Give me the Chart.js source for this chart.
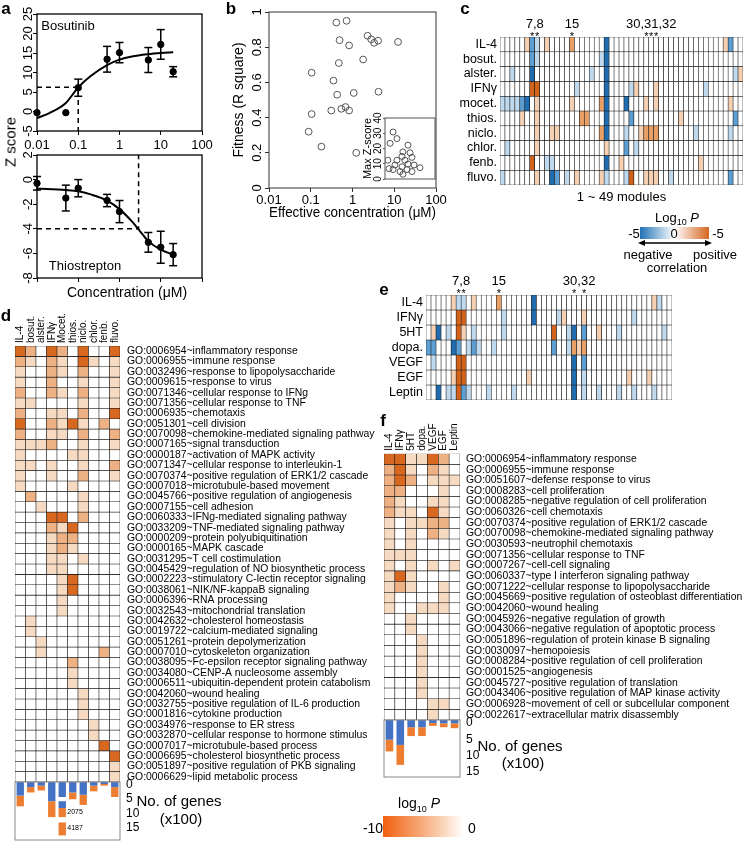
<!DOCTYPE html>
<html>
<head>
<meta charset="utf-8">
<script src="https://cdn.jsdelivr.net/npm/chart.js@4.4.1/dist/chart.umd.min.js"></script>
<style>
  body { margin: 0; background: #fff; }
  #fig { position: relative; width: 749px; height: 842px; overflow: hidden; font-family: "Liberation Sans", Arial, sans-serif; color: #000; }
  canvas { position: absolute; }
  .t { position: absolute; white-space: nowrap; transform: translate(-50%, -50%); line-height: 1; }
</style>
</head>
<body>
<div id="fig"></div>
<script>
// ---- panel a: dose response ----
const concTicks = [0.01, 0.1, 1, 10, 100];
const bosX = [0.01, 0.05, 0.1, 0.5, 1, 5, 10, 20];
const bosY = [-0.3, -0.3, 6.1, 13.4, 15.1, 13.2, 17.2, 10.2];
const bosErr = [0, 0, 2.2, 3.3, 2.6, 3.2, 3.8, 1.3];
const bosFitX = [0.01, 0.02, 0.05, 0.1, 0.2, 0.5, 1, 2, 5, 10, 20];
const bosFitY = [-1.7, -0.4, 2.2, 6.2, 9.1, 11.9, 13.3, 14.1, 14.7, 15.0, 15.2];
const bosEC = [[0.01, 6.2], [0.1, 6.2], [0.1, -5]];

const thX = [0.01, 0.05, 0.1, 0.5, 1, 5, 10, 20];
const thY = [-0.3, -1.5, -0.7, -1.7, -2.6, -5.1, -5.5, -6.1];
const thErr = [0.55, 1.05, 0.7, 0.5, 0.9, 0.8, 1.3, 0.9];
const thFitX = [0.01, 0.05, 0.1, 0.2, 0.5, 1, 2, 3, 5, 10, 20];
const thFitY = [-0.72, -0.85, -0.95, -1.2, -1.7, -2.4, -3.4, -4.1, -5.0, -5.7, -6.1];
const thEC = [[0.01, -4], [2.9, -4], [2.9, 2]];

// ---- panel b: fitness vs effective concentration ----
const bX = [0.41, 0.72, 0.49, 0.83, 2.3, 2.8, 3.3, 4.1, 1.8, 0.47, 0.105, 0.35, 0.43, 1.07, 4.2, 0.31, 0.54, 0.68, 0.83, 0.105, 0.089, 0.18, 1.23, 12.3];
const bY = [0.94, 0.95, 0.84, 0.81, 0.865, 0.845, 0.825, 0.837, 0.73, 0.71, 0.655, 0.61, 0.53, 0.54, 0.547, 0.44, 0.45, 0.46, 0.44, 0.42, 0.32, 0.235, 0.20, 0.83];
const insetX = [1.6, 1.3, 1.45, 2.1, 3.0, 8.3, 5.2, 4.8, 10, 12, 6.3, 3.0, 2.5, 4.8, 8.3, 14.5, 25, 4.0, 7.6, 12, 2.1, 5.2];
const insetY = [23.4, 12.3, 6.8, 30.8, 26.5, 22.2, 17.8, 14.8, 17.2, 14.2, 12.3, 12.3, 9.2, 8.0, 9.8, 9.2, 7.4, 4.9, 6.2, 4.9, 6.2, 3.1];

// ---- panels c, e: module heatmaps, sparse [module index, level] ----
const modules = Array.from({ length: 49 }, (_, i) => i + 1);
const cRows = ['IL-4', 'bosut.', 'alster.', 'IFNγ', 'mocet.', 'thios.', 'niclo.', 'chlor.', 'fenb.', 'fluvo.'];
const cCells = [
  [[5, 1], [6, -2], [7, -1], [9, 1], [14, 2], [21, -3], [45, 1], [46, -2]],
  [[6, -2], [7, -1], [20, -1], [21, -3]],
  [[2, -1], [6, -3], [18, -1], [21, -3], [47, -1], [48, 1]],
  [[6, 3], [7, 3], [15, -1], [21, -3], [26, -1], [27, 1], [31, 1], [41, -1]],
  [[0, -1], [1, -1], [2, -1], [3, -1], [4, -2], [5, -3], [7, 1], [14, 1], [20, 2], [21, -3], [25, -3], [29, 1], [31, 1], [46, 1]],
  [[4, 1], [7, 1], [16, 2], [17, 2], [21, -3], [26, -2], [36, 1], [47, -2]],
  [[7, 1], [10, 1], [11, 1], [20, 2], [21, -3], [25, -1], [28, 1], [29, 2], [30, 2], [31, 2], [39, -1], [46, -1]],
  [[1, -1], [7, 1], [21, 1], [25, -2], [27, -1]],
  [[6, 3], [9, -1], [10, -1], [21, -3], [24, 1], [40, 1]],
  [[0, -1], [7, 1], [10, -3], [11, -2], [13, -1], [15, 1], [20, 1], [21, -1], [25, -1], [26, 3], [29, 1], [30, 1], [31, 1], [34, -1], [46, -2]]
];
const cStarred = [[7, 8], [15], [30, 31, 32]];

const eRows = ['IL-4', 'IFNγ', '5HT', 'dopa.', 'VEGF', 'EGF', 'Leptin'];
const eCells = [
  [[5, 1], [6, -1], [7, -1], [9, 1], [14, 2], [21, -3], [45, 1], [46, -1]],
  [[6, 3], [7, 3], [15, -1], [21, -3], [26, -1], [27, 1], [31, 1], [41, -1]],
  [[1, 1], [2, -3], [4, -1], [6, 3], [7, 1], [9, -1], [15, -1], [25, 3], [28, -1], [29, -3], [31, -2], [34, 1], [38, -1], [47, -1]],
  [[0, -2], [1, -2], [5, -3], [6, -2], [8, -1], [9, -2], [10, -1], [13, -1], [25, -2], [28, -1], [29, 2], [30, 1], [31, 2]],
  [[1, -1], [6, 3], [7, 3], [29, -3], [31, -2]],
  [[5, 1], [6, 3], [7, 3], [20, 1], [29, -3], [31, -1], [40, 1], [44, 1]],
  [[2, -3], [4, -1], [5, -1], [6, 3], [7, -2], [8, -1], [12, -1], [17, -1], [29, -3], [31, -1], [34, -1], [38, -1], [41, -1], [45, -1]]
];
const eStarred = [[7, 8], [15], [30, 32]];

// ---- panel d: GO enrichment for drugs ----
const dCols = ['IL-4', 'bosut.', 'alster.', 'IFNγ', 'Mocet.', 'thios.', 'niclo.', 'chlor.', 'fenb.', 'fluvo.'];
const dTerms = [
  'GO:0006954~inflammatory response', 'GO:0006955~immune response', 'GO:0032496~response to lipopolysaccharide',
  'GO:0009615~response to virus', 'GO:0071346~cellular response to IFNg', 'GO:0071356~cellular response to TNF',
  'GO:0006935~chemotaxis', 'GO:0051301~cell division', 'GO:0070098~chemokine-mediated signaling pathway',
  'GO:0007165~signal transduction', 'GO:0000187~activation of MAPK activity', 'GO:0071347~cellular response to interleukin-1',
  'GO:0070374~positive regulation of ERK1/2 cascade', 'GO:0007018~microtubule-based movement', 'GO:0045766~positive regulation of angiogenesis',
  'GO:0007155~cell adhesion', 'GO:0060333~IFNg-mediated signaling pathway', 'GO:0033209~TNF-mediated signaling pathway',
  'GO:0000209~protein polyubiquitination', 'GO:0000165~MAPK cascade', 'GO:0031295~T cell costimulation',
  'GO:0045429~regulation of NO biosynthetic process', 'GO:0002223~stimulatory C-lectin receptor signaling', 'GO:0038061~NIK/NF-kappaB signaling',
  'GO:0006396~RNA processing', 'GO:0032543~mitochondrial translation', 'GO:0042632~cholesterol homeostasis',
  'GO:0019722~calcium-mediated signaling', 'GO:0051261~protein depolymerization', 'GO:0007010~cytoskeleton organization',
  'GO:0038095~Fc-epsilon receptor signaling pathway', 'GO:0034080~CENP-A nucleosome assembly', 'GO:0006511~ubiquitin-dependent protein catabolism',
  'GO:0042060~wound healing', 'GO:0032755~positive regulation of IL-6 production', 'GO:0001816~cytokine production',
  'GO:0034976~response to ER stress', 'GO:0032870~cellular response to hormone stimulus', 'GO:0007017~microtubule-based process',
  'GO:0006695~cholesterol biosynthetic process', 'GO:0051897~positive regulation of PKB signaling', 'GO:0006629~lipid metabolic process'
];
const dLevels = [
  [3, 2, 0, 3, 2, 0, 3, 0, 0, 3], [2, 1, 0, 2, 1, 0, 3, 1, 0, 1], [1, 0, 0, 2, 1, 0, 2, 0, 0, 1],
  [1, 0, 0, 2, 0, 0, 1, 0, 0, 1], [2, 0, 0, 2, 1, 0, 2, 0, 0, 1], [1, 1, 0, 0, 0, 0, 1, 0, 0, 1],
  [2, 0, 0, 1, 1, 0, 2, 0, 0, 3], [3, 0, 0, 2, 1, 3, 1, 0, 2, 0], [2, 0, 0, 1, 1, 0, 2, 0, 0, 2],
  [1, 1, 1, 2, 0, 0, 1, 0, 0, 1], [1, 0, 0, 0, 0, 1, 1, 0, 0, 0], [1, 1, 0, 1, 0, 0, 1, 0, 0, 2],
  [1, 0, 0, 1, 0, 0, 2, 0, 0, 1], [1, 0, 0, 0, 0, 1, 0, 0, 0, 0], [0, 2, 0, 0, 0, 0, 1, 0, 0, 0],
  [0, 0, 1, 0, 0, 0, 1, 0, 0, 0], [0, 0, 0, 3, 3, 0, 2, 0, 0, 0], [0, 0, 0, 2, 1, 3, 0, 0, 0, 0],
  [0, 0, 0, 1, 2, 2, 0, 0, 0, 0], [0, 0, 0, 1, 2, 1, 0, 0, 0, 0], [0, 0, 0, 1, 1, 0, 1, 0, 0, 0],
  [0, 0, 0, 1, 1, 0, 0, 0, 0, 0], [0, 0, 0, 0, 1, 3, 0, 0, 0, 0], [0, 0, 0, 0, 1, 3, 0, 0, 0, 0],
  [0, 0, 0, 0, 1, 0, 0, 0, 0, 0], [0, 0, 0, 0, 1, 0, 0, 0, 0, 0], [0, 1, 0, 0, 0, 0, 0, 0, 0, 0],
  [0, 1, 0, 0, 0, 0, 0, 0, 0, 0], [0, 0, 1, 0, 0, 0, 0, 0, 0, 0], [0, 0, 1, 0, 0, 0, 0, 0, 2, 0],
  [0, 0, 0, 0, 0, 2, 0, 0, 0, 0], [0, 0, 0, 0, 0, 1, 0, 0, 0, 0], [0, 0, 0, 0, 0, 1, 0, 0, 0, 0],
  [0, 0, 0, 0, 0, 0, 1, 0, 0, 0], [0, 0, 0, 0, 0, 0, 1, 0, 0, 0], [0, 0, 0, 0, 0, 0, 1, 0, 0, 0],
  [0, 0, 0, 0, 0, 0, 0, 1, 0, 0], [0, 0, 0, 0, 0, 0, 0, 1, 0, 0], [0, 0, 0, 0, 0, 0, 0, 0, 3, 0],
  [0, 0, 0, 0, 0, 0, 0, 0, 0, 3], [0, 0, 0, 0, 0, 0, 0, 0, 0, 1], [0, 0, 0, 0, 0, 0, 0, 0, 0, 1]
];
// gene counts (x100) as floating ranges: blue first, orange below it; Mocet. has broken bars
const dBlue = [[0, 4.8], [0, 1.8], [0, 1.3], [0, 6.8], [0, 5.3], [0, 3.7], [0, 4.5], [0, 1.3], [0, 0.7], [0, 1.8]];
const dBlueBreak = [null, null, null, null, [6.8, 9.2], null, null, null, null, null];
const dOrange = [[4.8, 8.6], [1.8, 3.7], [1.3, 3.0], [6.8, 12.4], [9.2, 12.4], [3.7, 6.1], [4.5, 8.1], [1.3, 3.3], [0.7, 1.3], [1.8, 5.3]];
const dOrangeBreak = [null, null, null, null, [14.3, 18.9], null, null, null, null, null];
const dBreakNotes = [[4, 10.6, '2075'], [4, 16.3, '4187']];

// ---- panel f: GO enrichment for cytokines ----
const fCols = ['IL-4', 'IFNγ', '5HT', 'dopa.', 'VEGF', 'EGF', 'Leptin'];
const fTerms = [
  'GO:0006954~inflammatory response', 'GO:0006955~immune response', 'GO:0051607~defense response to virus',
  'GO:0008283~cell proliferation', 'GO:0008285~negative regulation of cell proliferation', 'GO:0060326~cell chemotaxis',
  'GO:0070374~positive regulation of ERK1/2 cascade', 'GO:0070098~chemokine-mediated signaling pathway', 'GO:0030593~neutrophil chemotaxis',
  'GO:0071356~cellular response to TNF', 'GO:0007267~cell-cell signaling', 'GO:0060337~type I interferon signaling pathway',
  'GO:0071222~cellular response to lipopolysaccharide', 'GO:0045669~positive regulation of osteoblast differentiation', 'GO:0042060~wound healing',
  'GO:0045926~negative regulation of growth', 'GO:0043066~negative regulation of apoptotic process', 'GO:0051896~regulation of protein kinase B signaling',
  'GO:0030097~hemopoiesis', 'GO:0008284~positive regulation of cell proliferation', 'GO:0001525~angiogenesis',
  'GO:0045727~positive regulation of translation', 'GO:0043406~positive regulation of MAP kinase activity', 'GO:0006928~movement of cell or subcellular component',
  'GO:0022617~extracellular matrix disassembly'
];
const fLevels = [
  [3, 3, 1, 1, 3, 2, 0], [2, 3, 1, 0, 2, 1, 0], [2, 3, 2, 0, 1, 1, 1], [2, 2, 0, 0, 0, 1, 0], [2, 1, 0, 0, 1, 1, 0],
  [2, 1, 1, 0, 3, 1, 0], [1, 0, 1, 1, 2, 2, 0], [1, 0, 1, 0, 2, 1, 0], [1, 0, 1, 0, 0, 0, 0], [1, 1, 1, 0, 0, 0, 0],
  [1, 0, 1, 0, 1, 0, 1], [1, 3, 1, 0, 0, 0, 0], [1, 2, 1, 0, 0, 1, 0], [1, 0, 0, 0, 0, 1, 0], [1, 0, 0, 1, 1, 1, 0],
  [0, 0, 1, 0, 0, 0, 0], [0, 0, 1, 0, 0, 0, 0], [0, 0, 0, 1, 0, 0, 0], [0, 0, 0, 1, 0, 0, 0], [0, 0, 0, 1, 0, 0, 0],
  [0, 0, 0, 1, 0, 0, 0], [0, 0, 0, 1, 0, 0, 0], [0, 0, 0, 1, 0, 0, 0], [0, 0, 0, 0, 1, 1, 0], [0, 0, 0, 0, 1, 0, 0]
];
const fBlue = [[0, 6.0], [0, 7.6], [0, 2.2], [0, 2.2], [0, 0.9], [0, 1.0], [0, 1.0]];
const fOrange = [[6.0, 9.6], [7.6, 13.7], [2.2, 4.9], [2.2, 4.9], [0.9, 1.8], [1.0, 2.2], [1.0, 2.5]];
const geneTicks = [0, 5, 10, 15];

const divColors = ['#1f6db0', '#5d9fd3', '#bfd9ee', '#ffffff', '#f5d0b2', '#e8a067', '#d3621b'];
const seqColors = ['#ffffff', '#f7dac2', '#eeb184', '#d8681f'];
const FONT = '"Liberation Sans", Arial, sans-serif';

Chart.defaults.font.family = FONT;
Chart.defaults.color = '#000';
Chart.defaults.animation = false;
Chart.defaults.responsive = false;
Chart.defaults.events = [];
Chart.defaults.plugins.legend.display = false;
Chart.defaults.plugins.tooltip.enabled = false;

// axis size is fixed by hand so the plot areas line up between charts
const fixSize = (w, h) => s => {
  if (w !== null) s.width = w;
  if (h !== null) s.height = h;
  s.paddingTop = s.paddingBottom = s.paddingLeft = s.paddingRight = 0;
};

// box around plot area, optional white fill behind it
Chart.register({
  id: 'frame',
  beforeDraw(chart, args, o) {
    if (!o.fill) return;
    const a = chart.chartArea;
    chart.ctx.save();
    chart.ctx.fillStyle = o.fill;
    chart.ctx.fillRect(a.left, a.top, a.width, a.height);
    chart.ctx.restore();
  },
  afterDraw(chart, args, o) {
    if (!o.color) return;
    const a = chart.chartArea, ctx = chart.ctx;
    ctx.save();
    ctx.strokeStyle = o.color;
    ctx.lineWidth = o.width || 1;
    ctx.strokeRect(a.left, a.top, a.width, a.height);
    ctx.restore();
  }
});

// y tick labels written bottom-to-top, as in the figure
Chart.register({
  id: 'vticks',
  afterDraw(chart, args, o) {
    if (!o.size) return;
    const s = chart.scales.y, ctx = chart.ctx;
    ctx.save();
    ctx.font = o.size + 'px ' + FONT;
    ctx.fillStyle = '#000';
    ctx.textAlign = 'center';
    ctx.textBaseline = 'middle';
    s.ticks.forEach(t => {
      ctx.save();
      ctx.translate(chart.chartArea.left - o.offset, s.getPixelForValue(t.value));
      ctx.rotate(-Math.PI / 2);
      ctx.fillText(t.label, 0, 0);
      ctx.restore();
    });
    ctx.restore();
  }
});

// rotated column names above a heatmap
Chart.register({
  id: 'colHeads',
  afterDraw(chart, args, o) {
    if (!o.labels) return;
    const x = chart.scales.x, ctx = chart.ctx, top = chart.chartArea.top;
    ctx.save();
    ctx.font = o.size + 'px ' + FONT;
    ctx.fillStyle = '#000';
    ctx.textAlign = 'left';
    ctx.textBaseline = 'middle';
    o.labels.forEach((lab, i) => {
      ctx.save();
      ctx.translate(x.getPixelForValue(i), top - o.gap);
      ctx.rotate(-Math.PI / 2);
      ctx.fillText(lab, 0, 0);
      ctx.restore();
    });
    ctx.restore();
  }
});

// module numbers and stars above heatmap columns
Chart.register({
  id: 'modules',
  afterDraw(chart, args, o) {
    if (!o.starred) return;
    const ctx = chart.ctx, x = chart.scales.x, top = chart.chartArea.top;
    ctx.save();
    ctx.fillStyle = '#000';
    ctx.textAlign = 'center';
    o.starred.forEach(group => {
      const px = group.map(m => x.getPixelForValue(m - 1));
      ctx.font = '13px ' + FONT;
      ctx.fillText(group.join(','), (Math.min(...px) + Math.max(...px)) / 2, top - o.textGap);
      ctx.font = '11px ' + FONT;
      px.forEach(p => ctx.fillText('*', p, top + o.starGap));
    });
    ctx.restore();
  }
});

// small text notes at data positions
Chart.register({
  id: 'notes',
  afterDraw(chart, args, o) {
    if (!o.items) return;
    const ctx = chart.ctx, x = chart.scales.x, y = chart.scales.y;
    ctx.save();
    ctx.font = '7px ' + FONT;
    ctx.textBaseline = 'middle';
    o.items.forEach(([c, v, s]) => ctx.fillText(s, x.getPixelForValue(c) + 5, y.getPixelForValue(v)));
    ctx.restore();
  }
});

const fig = document.getElementById('fig');
function makeCanvas(x, y, w, h) {
  const c = document.createElement('canvas');
  c.width = w; c.height = h;
  c.style.left = x + 'px'; c.style.top = y + 'px';
  c.style.width = w + 'px'; c.style.height = h + 'px';
  fig.appendChild(c);
  return c;
}
function put(html, x, y, css) {
  const d = document.createElement('div');
  d.className = 't';
  d.innerHTML = html;
  d.style.left = x + 'px';
  d.style.top = y + 'px';
  if (css) d.style.cssText += css;
  fig.appendChild(d);
}
const pts = (xs, ys) => xs.map((x, i) => ({ x, y: ys[i] }));
function errPts(xs, ys, es) {
  const out = [];
  xs.forEach((x, i) => {
    if (!es[i]) return;
    out.push({ x, y: ys[i] - es[i] }, { x, y: ys[i] + es[i] }, { x, y: null });
  });
  return out;
}

// ---------- panel a ----------
function doseChart(box, o) {
  return new Chart(makeCanvas(box.x, box.y, box.w, box.h), {
    type: 'scatter',
    data: {
      datasets: [
        { type: 'line', data: pts(o.fitX, o.fitY), borderColor: '#000', borderWidth: 2, pointRadius: 0, cubicInterpolationMode: 'monotone' },
        { type: 'line', data: o.ec.map(([x, y]) => ({ x, y })), borderColor: '#000', borderWidth: 1.5, borderDash: [5, 4], pointRadius: 0 },
        { type: 'line', data: errPts(o.x, o.y, o.err), borderColor: '#000', borderWidth: 1.5, spanGaps: false,
          pointStyle: 'line', pointRadius: 4, pointBorderWidth: 1.5, pointBorderColor: '#000', clip: false },
        { data: pts(o.x, o.y), backgroundColor: '#000', borderColor: '#000', pointRadius: 3.2, clip: false }
      ]
    },
    options: {
      layout: { padding: o.pad },
      scales: {
        x: {
          type: 'logarithmic', min: 0.01, max: 100,
          afterBuildTicks: s => { s.ticks = concTicks.map(v => ({ value: v })); },
          ticks: { display: o.xLabels, callback: v => String(v), font: { size: 13 }, padding: 3, maxRotation: 0, autoSkip: false },
          grid: { drawOnChartArea: false, tickLength: 4, color: '#000' },
          border: { display: false },
          afterFit: fixSize(null, o.xh)
        },
        y: {
          min: o.ymin, max: o.ymax,
          ticks: { stepSize: o.step, display: false },
          grid: { drawOnChartArea: false, tickLength: 4, color: '#000' },
          border: { display: false },
          afterFit: fixSize(37, null)
        }
      },
      plugins: { frame: { color: '#000', width: 1.3 }, vticks: { size: 13, offset: 9 } }
    }
  });
}
doseChart({ x: 0, y: 0, w: 215, h: 160 }, { x: bosX, y: bosY, err: bosErr, fitX: bosFitX, fitY: bosFitY, ec: bosEC,
  ymin: -5, ymax: 25, step: 5, xLabels: true, xh: 29, pad: { top: 14, right: 13 } });
doseChart({ x: 0, y: 145, w: 215, h: 139 }, { x: thX, y: thY, err: thErr, fitX: thFitX, fitY: thFitY, ec: thEC,
  ymin: -8, ymax: 2, step: 2, xLabels: false, xh: 6, pad: { top: 10, right: 13 } });

// ---------- panel b ----------
new Chart(makeCanvas(200, 0, 249, 225), {
  type: 'scatter',
  data: { datasets: [{ data: pts(bX, bY), pointRadius: 3.4, borderColor: '#555', borderWidth: 1, backgroundColor: 'rgba(0,0,0,0)', clip: false }] },
  options: {
    layout: { padding: { top: 12, right: 13 } },
    scales: {
      x: {
        type: 'logarithmic', min: 0.01, max: 100,
        afterBuildTicks: s => { s.ticks = concTicks.map(v => ({ value: v })); },
        ticks: { callback: v => String(v), font: { size: 13 }, padding: 1, maxRotation: 0, autoSkip: false },
        grid: { drawOnChartArea: false, tickLength: 4, color: '#333' },
        border: { display: false },
        title: { display: true, text: 'Effective concentration (μM)', font: { size: 14 }, padding: { top: 0, bottom: 3 } },
        afterFit: fixSize(null, 37)
      },
      y: {
        min: 0, max: 1,
        ticks: { stepSize: 0.2, display: false, callback: v => String(+v.toFixed(1)) },
        grid: { drawOnChartArea: false, tickLength: 4, color: '#333' },
        border: { display: false },
        title: { display: true, text: 'Fitness (R square)', font: { size: 14 }, padding: { top: 31, bottom: 0 } },
        afterFit: fixSize(69, null)
      }
    },
    plugins: { frame: { color: '#333', width: 1 }, vticks: { size: 13, offset: 11.5 } }
  }
});
// inset: max Z-score
new Chart(makeCanvas(355, 112, 85, 72), {
  type: 'scatter',
  data: { datasets: [{ data: pts(insetX, insetY), pointRadius: 3, borderColor: '#555', borderWidth: 1, backgroundColor: 'rgba(0,0,0,0)' }] },
  options: {
    layout: { padding: { top: 6, right: 5, bottom: 1 } },
    scales: {
      x: { type: 'logarithmic', min: 1, max: 100, display: false },
      y: {
        min: 0, max: 40,
        ticks: { stepSize: 10, display: false },
        grid: { drawOnChartArea: false, tickLength: 2, color: '#555' },
        border: { display: false },
        title: { display: true, text: 'Max Z-score', font: { size: 11 }, padding: { top: 6, bottom: 0 } },
        afterFit: fixSize(30, null)
      }
    },
    plugins: { frame: { color: '#555', width: 1, fill: '#fff' }, vticks: { size: 10, offset: 6.5 } }
  }
});

// ---------- heatmaps ----------
function cellSets(levels, colorOf) {
  return levels.map(row => ({
    data: row.map(() => 1),
    backgroundColor: row.map(colorOf),
    borderColor: '#1a1a1a', borderWidth: 0.6, borderSkipped: false,
    barPercentage: 1, categoryPercentage: 1
  }));
}
function moduleHeatmap(box, rows, cells, starred, o) {
  const levels = cells.map(pairs => {
    const a = modules.map(() => 0);
    pairs.forEach(([c, v]) => { a[c] = v; });
    return a;
  });
  return new Chart(makeCanvas(box.x, box.y, box.w, box.h), {
    type: 'bar',
    data: { labels: modules, datasets: cellSets(levels, v => divColors[v + 3]) },
    options: {
      layout: { padding: o.pad },
      scales: {
        x: {
          stacked: true, display: !!o.title,
          ticks: { display: false }, grid: { display: false, drawTicks: false }, border: { display: false },
          title: { display: !!o.title, text: o.title, font: { size: 13 }, padding: { top: 0, bottom: 5 } },
          afterFit: fixSize(null, o.xh)
        },
        y: {
          stacked: true, reverse: true, min: 0, max: rows.length,
          afterBuildTicks: s => { s.ticks = rows.map((_, i) => ({ value: i + 0.5 })); },
          ticks: { callback: (v, i) => rows[i], font: { size: 12.5 }, padding: 3, autoSkip: false },
          grid: { display: false, drawTicks: false }, border: { display: false },
          afterFit: fixSize(o.yw, null)
        }
      },
      plugins: { modules: { starred, textGap: o.textGap, starGap: o.starGap } }
    }
  });
}
moduleHeatmap({ x: 430, y: 15, w: 319, h: 195 }, cRows, cCells, cStarred,
  { pad: { top: 22, right: 6 }, xh: 25, yw: 70, title: '1 ~ 49 modules', textGap: 9, starGap: 3 });
moduleHeatmap({ x: 375, y: 270, w: 305, h: 135 }, eRows, eCells, eStarred,
  { pad: { top: 25, right: 8, bottom: 5 }, xh: 0, yw: 51, title: '', textGap: 10, starGap: 2 });

function goHeatmap(box, cols, terms, levels, o) {
  return new Chart(makeCanvas(box.x, box.y, box.w, box.h), {
    type: 'bar',
    data: { labels: cols, datasets: cellSets(levels, v => seqColors[v]) },
    options: {
      layout: { padding: o.pad },
      scales: {
        x: { stacked: true, display: false },
        y: {
          position: 'right', stacked: true, reverse: true, min: 0, max: terms.length,
          afterBuildTicks: s => { s.ticks = terms.map((_, i) => ({ value: i + 0.5 })); },
          ticks: { callback: (v, i) => terms[i], font: { size: 10.4 }, padding: o.gap, autoSkip: false },
          grid: { display: false, drawTicks: false }, border: { display: false },
          afterFit: fixSize(o.yw, null)
        }
      },
      plugins: { colHeads: { labels: cols, size: 10, gap: 3 } }
    }
  });
}
goHeatmap({ x: 0, y: 290, w: 385, h: 492 }, dCols, dTerms, dLevels, { pad: { left: 15, top: 56 }, yw: 265, gap: 7 });
goHeatmap({ x: 370, y: 405, w: 379, h: 316 }, fCols, fTerms, fLevels, { pad: { left: 14, top: 48.7, bottom: 1 }, yw: 289, gap: 6 });

function geneBars(box, cols, sets, o) {
  return new Chart(makeCanvas(box.x, box.y, box.w, box.h), {
    type: 'bar',
    data: {
      labels: cols,
      datasets: sets.map(([data, color]) => ({ data, backgroundColor: color, grouped: false, barPercentage: 0.7, categoryPercentage: 1 }))
    },
    options: {
      layout: { padding: o.pad },
      scales: {
        x: { display: false },
        y: {
          position: 'right', reverse: true, min: 0, max: o.max,
          afterBuildTicks: s => { s.ticks = geneTicks.map(v => ({ value: v })); },
          ticks: { font: { size: 12 }, padding: 6, labelOffset: 3, autoSkip: false },
          grid: { display: false, drawTicks: false }, border: { display: false },
          afterFit: fixSize(80, null)
        }
      },
      plugins: { frame: { color: '#888', width: 1 }, notes: { items: o.notes } }
    }
  });
}
// canvases start 8px above the bar area so the "0" label is not cut
geneBars({ x: 0, y: 774, w: 200, h: 68 }, dCols,
  [[dBlue, '#4472c4'], [dBlueBreak, '#4472c4'], [dOrange, '#ed7d31'], [dOrangeBreak, '#ed7d31']],
  { pad: { left: 15, top: 8, bottom: 2 }, max: 20.5, notes: dBreakNotes });
geneBars({ x: 370, y: 712, w: 170, h: 66 }, fCols,
  [[fBlue, '#4472c4'], [fOrange, '#ed7d31']],
  { pad: { left: 14, top: 8, bottom: 1 }, max: 17.4, notes: null });

// ---------- text and legends ----------
const bold = 'font-weight:bold;font-size:17px;';
put('a', 6, 8, bold);
put('b', 231, 8, bold);
put('c', 465, 8, bold);
put('d', 6, 315, bold);
put('e', 384, 289, bold);
put('f', 383, 420, bold);

put('Bosutinib', 68, 25, 'font-size:13px;');
put('Thiostrepton', 85, 265, 'font-size:13px;');
put('Z score', 10, 142, 'font-size:15px;transform:translate(-50%,-50%) rotate(-90deg);');
put('Concentration (μM)', 127, 292, 'font-size:14px;');

put('Log<sub style="font-size:9px">10</sub> <i>P</i>', 677, 219, 'font-size:13px;');
put('-5', 634, 233, 'font-size:13px;');
put('-5', 718, 233, 'font-size:13px;');
put('negative', 648, 254, 'font-size:13px;');
put('positive', 715, 254, 'font-size:13px;');
put('correlation', 677, 267, 'font-size:13px;');
const grad = document.createElement('div');
grad.style.cssText = 'position:absolute;left:640px;top:227px;width:69px;height:12px;background:linear-gradient(to right,#2272b4,#ffffff 50%,#d6661f);';
fig.appendChild(grad);
put('0', 674, 233, 'font-size:13px;');
fig.insertAdjacentHTML('beforeend',
  '<svg style="position:absolute;left:636px;top:238px" width="78" height="10">' +
  '<line x1="6" y1="5" x2="72" y2="5" stroke="#000" stroke-width="1.3"/>' +
  '<polygon points="2,5 9,2 9,8" fill="#000"/><polygon points="76,5 69,2 69,8" fill="#000"/></svg>');

put('No. of genes', 179, 800, 'font-size:15px;');
put('(x100)', 181, 818, 'font-size:15px;');
put('No. of genes', 520, 745, 'font-size:15px;');
put('(x100)', 523, 762, 'font-size:15px;');

put('log<sub style="font-size:9px">10</sub> <i>P</i>', 419, 805, 'font-size:14px;');
const grad2 = document.createElement('div');
grad2.style.cssText = 'position:absolute;left:383px;top:816px;width:80px;height:21px;background:linear-gradient(to right,#f2600f,#f9c4a0 65%,#ffffff);';
fig.appendChild(grad2);
put('-10', 373, 828, 'font-size:14px;');
put('0', 472, 828, 'font-size:14px;');
</script>
</body>
</html>
